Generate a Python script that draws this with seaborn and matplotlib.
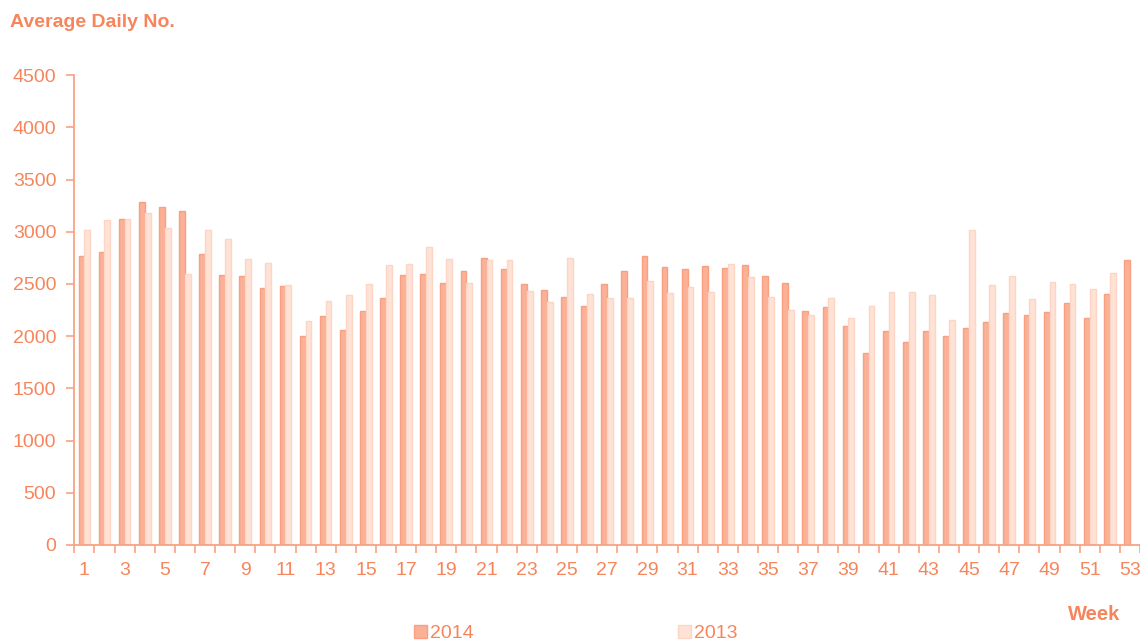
import numpy as np
import pandas as pd
import matplotlib
matplotlib.use("Agg")
import matplotlib.pyplot as plt
from matplotlib.patches import Patch
import seaborn as sns

# Average daily numbers per week, two years side by side
weeks = list(range(1, 54))
avg_2014 = [2767, 2805, 3121, 3284, 3233, 3195, 2786, 2582, 2572, 2464,
            2483, 2004, 2196, 2055, 2243, 2365, 2585, 2595, 2512, 2623,
            2751, 2643, 2502, 2445, 2375, 2285, 2496, 2625, 2764, 2665,
            2643, 2675, 2655, 2681, 2572, 2512, 2243, 2276, 2097, 1835,
            2046, 1944, 2046, 2004, 2075, 2132, 2225, 2205, 2234, 2314,
            2173, 2403, 2726]
avg_2013 = [3013, 3112, 3121, 3182, 3032, 2592, 3019, 2933, 2741, 2703,
            2489, 2142, 2333, 2394, 2496, 2681, 2690, 2850, 2741, 2512,
            2726, 2726, 2432, 2324, 2751, 2400, 2362, 2362, 2531, 2413,
            2470, 2426, 2694, 2563, 2375, 2253, 2202, 2362, 2173, 2292,
            2422, 2422, 2394, 2154, 3013, 2493, 2572, 2352, 2521, 2502,
            2454, 2604, np.nan]
years = ["2014", "2013"]

df = pd.DataFrame({
    "week": weeks * 2,
    "value": avg_2014 + avg_2013,
    "year": [years[0]] * len(weeks) + [years[1]] * len(weeks),
})

ACCENT = "#F7855C"
SPINE = "#F9A283"
FILL = {"2014": "#FBB196", "2013": "#FFE2D6"}
EDGE = {"2014": "#F9A082", "2013": "#FDD5C5"}

sns.set_theme(style="white")
plt.rcParams["font.family"] = ["Liberation Sans", "DejaVu Sans"]

fig = plt.figure(figsize=(11.4, 6.41), dpi=100)
ax = fig.add_axes([0.0652, 0.1498, 0.9348, 0.733])

sns.barplot(data=df, x="week", y="value", hue="year", hue_order=years,
            palette=FILL, width=0.58, dodge=True, ax=ax, legend=False,
            saturation=1, linewidth=1)

# Color each bar's outline to its series
for cont, yr in zip(ax.containers, years):
    for patch in cont:
        patch.set_edgecolor(EDGE[yr])
        patch.set_linewidth(1.0)

ax.set_ylim(0, 4500)
ax.set_xlim(-0.5, len(weeks) - 0.5)
ax.set_yticks(np.arange(0, 4501, 500))
ax.set_xticks(range(0, len(weeks), 2))
ax.set_xticklabels([str(w) for w in weeks[::2]])
ax.set_xticks(np.arange(-0.5, len(weeks), 1), minor=True)
ax.set_xlabel("")
ax.set_ylabel("")

for side in ["top", "right"]:
    ax.spines[side].set_visible(False)
for side in ["left", "bottom"]:
    ax.spines[side].set_color(SPINE)
    ax.spines[side].set_linewidth(1.3)

ax.tick_params(axis="y", which="major", direction="out", length=6, width=1.2,
               color=SPINE, labelcolor=ACCENT, labelsize=14, pad=7, left=True)
ax.tick_params(axis="x", which="major", length=0, labelcolor=ACCENT,
               labelsize=14, pad=12, bottom=True)
ax.tick_params(axis="x", which="minor", direction="out", length=6, width=1.2,
               color=SPINE, bottom=True)

fig.text(0.009, 0.965, "Average Daily No.", color=ACCENT, fontsize=14,
         fontweight="bold", ha="left", va="center")
fig.text(0.983, 0.042, "Week", color=ACCENT, fontsize=14.5,
         fontweight="bold", ha="right", va="center")

# Legend along the bottom edge
handles = [Patch(facecolor=FILL[y], edgecolor=EDGE[y], label=y) for y in years]
leg = fig.legend(handles=handles, loc="center", bbox_to_anchor=(0.505, 0.012),
                 ncol=2, frameon=False, fontsize=14, columnspacing=10.55,
                 handlelength=0.65, handleheight=0.65, handletextpad=0.15)
for t in leg.get_texts():
    t.set_color(ACCENT)

fig.savefig("out.png", dpi=100)
